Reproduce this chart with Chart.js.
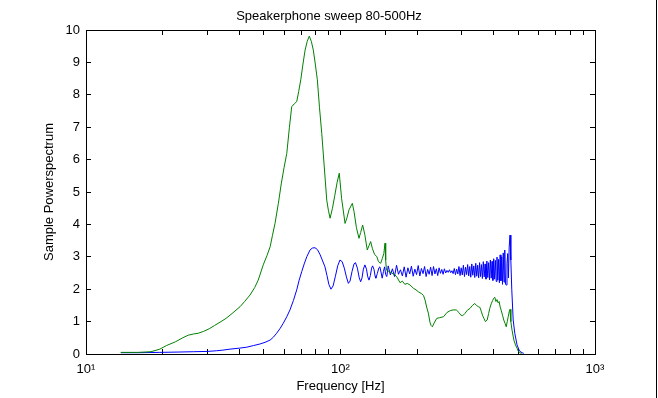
<!DOCTYPE html>
<html>
<head>
<meta charset="utf-8">
<title>Speakerphone sweep 80-500Hz</title>
<script src="https://cdn.jsdelivr.net/npm/chart.js"></script>
<style>
  body { margin: 0; background: #fff; }
  .wrap { position: relative; width: 658px; height: 398px; }
  .edge { position: absolute; left: 656px; top: 0; width: 1px; height: 398px; background: #000; }
</style>
</head>
<body>
<div class="wrap">
  <canvas id="myChart" width="658" height="398"></canvas>
  <div class="edge"></div>
</div>
<script>
// values
const greenFreq = [13.7, 16, 18, 19.5, 20.7, 22.5, 24, 25.2, 26.5, 27.6, 29, 30.5, 32, 33.6, 35.5, 37.5, 40.3, 42, 44.1, 46,
  47.5, 49.7, 51.5, 52.9, 54, 55.3, 57, 58.5, 60, 61.5, 63, 64.3, 65.8, 67.3, 68.5, 69.8, 71.2, 72.6, 74, 75.4,
  76.8, 78.2, 79.6, 81.1, 82.7, 84.4, 86.3, 88.3, 89.6, 91, 93, 95, 97, 98.9, 101, 104.2, 106, 108, 111.3, 113,
  115.5, 118.2, 120, 122.2, 124.5, 127.4, 129.5, 131.4, 133.5, 136, 139, 141, 143.9, 146, 148, 149.6, 150.5, 151.5, 155, 159,
  163.7, 167, 171.4, 175, 179, 183, 187.6, 193.3, 198, 202.3, 208.5, 212, 214.8, 218, 221.4, 224.8, 227, 229.6, 233, 238.9,
  245, 254, 262, 270, 277, 285, 292, 297, 302, 308, 315, 323, 330, 337, 342, 348, 353, 358, 362, 366,
  371, 377, 382, 386, 391, 396, 400, 404, 408, 412, 416, 420, 424, 428, 433, 438, 443, 448, 452, 456,
  460, 463.5, 467, 472, 480, 487, 494, 500, 505, 515];
const greenPower = [0.05, 0.05, 0.07, 0.15, 0.26, 0.38, 0.50, 0.58, 0.62, 0.64, 0.70, 0.78, 0.88, 0.98, 1.10, 1.25, 1.46, 1.62, 1.82, 2.05,
  2.28, 2.75, 3.05, 3.31, 3.65, 4.03, 4.65, 5.25, 5.75, 6.19, 7.0, 7.63, 7.72, 7.79, 8.1, 8.46, 8.95, 9.38, 9.65, 9.81,
  9.65, 9.38, 8.95, 8.46, 7.6, 6.81, 5.8, 4.75, 4.44, 4.19, 4.5, 4.9, 5.3, 5.58, 4.8, 4.03, 4.2, 4.45, 4.65, 4.4,
  3.9, 3.57, 3.75, 3.98, 3.7, 3.21, 3.35, 3.47, 3.25, 3.08, 3.0, 2.85, 2.80, 2.95, 3.1, 3.42, 2.9, 2.59, 2.55, 2.5,
  2.44, 2.36, 2.2, 2.25, 2.15, 2.18, 2.13, 2.03, 1.98, 1.92, 1.86, 1.8, 1.67, 1.45, 1.26, 0.97, 0.88, 0.84, 0.95, 1.10,
  1.12, 1.15, 1.28, 1.34, 1.36, 1.36, 1.28, 1.20, 1.18, 1.25, 1.35, 1.41, 1.50, 1.56, 1.50, 1.46, 1.44, 1.30, 1.18, 1.10,
  1.00, 1.05, 1.25, 1.41, 1.55, 1.65, 1.72, 1.75, 1.62, 1.68, 1.58, 1.62, 1.45, 1.35, 1.20, 1.05, 0.95, 0.84, 1.0, 1.15,
  1.3, 1.38, 1.0, 0.74, 0.43, 0.28, 0.18, 0.08, 0.04, 0.02];

const blueFreq = [13.7, 16, 19.5, 23, 26.4, 30, 32.6, 34.5, 36.8, 40, 42.8, 45.5, 48.3, 50.5, 52.9, 54.5, 56.1, 57.8, 59.6, 61.5,
  63.3, 65.3, 67.3, 68.8, 70.4, 72, 73.7, 75.9, 77.5, 79.4, 81.2, 83, 84.8, 86.9, 88.5, 90, 91.7, 93.5, 95.5, 97.5,
  99.5, 101.5, 103.5, 105.5, 107.4, 109, 111, 113, 114.5, 116.5, 118.5, 120, 121.5, 123, 124.7, 126.5, 128, 129.4, 131, 132.5,
  133.7, 135.5, 136.8, 137.7, 139.5, 141.5, 142.8, 144.5, 145.8, 147.5, 149, 150.5, 152, 154, 157, 160, 163, 166, 169, 172,
  175, 178, 181, 184, 187, 190, 193, 196, 199, 202, 205, 208, 211, 214, 217, 220, 223, 226, 229, 232,
  235, 238, 241, 244, 247, 250, 253, 256, 259, 262, 265, 268, 271, 274, 277, 280, 283, 286, 289, 292,
  295, 298, 301, 304, 307, 310, 313, 316, 319, 322, 325, 328, 331, 334, 337, 340, 343, 346, 349, 352,
  355, 358, 361, 364, 367, 370, 373, 376, 379, 382, 385, 388, 391, 394, 397, 400, 403, 406, 409, 412,
  415, 418, 421, 424, 427, 430, 433, 436, 439, 442, 445, 448, 451, 454, 457, 460, 463.5, 467, 471, 477,
  484, 494, 505, 517, 525];
const bluePower = [0.04, 0.04, 0.05, 0.06, 0.07, 0.08, 0.10, 0.12, 0.15, 0.18, 0.21, 0.26, 0.31, 0.36, 0.43, 0.52, 0.64, 0.78, 0.95, 1.15,
  1.36, 1.65, 1.98, 2.28, 2.54, 2.78, 3.00, 3.21, 3.27, 3.28, 3.22, 3.08, 2.90, 2.69, 2.42, 2.15, 2.00, 2.10, 2.40, 2.72,
  2.90, 2.85, 2.65, 2.38, 2.18, 2.25, 2.55, 2.78, 2.82, 2.65, 2.35, 2.23, 2.35, 2.62, 2.75, 2.62, 2.38, 2.28, 2.42, 2.65,
  2.72, 2.60, 2.40, 2.34, 2.48, 2.66, 2.69, 2.50, 2.34, 2.55, 2.69, 2.45, 2.39, 2.72, 2.44, 2.63, 2.39, 2.74, 2.46, 2.60,
  2.41, 2.69, 2.37, 2.66, 2.47, 2.71, 2.40, 2.62, 2.45, 2.73, 2.41, 2.64, 2.48, 2.70, 2.39, 2.61, 2.46, 2.68, 2.42, 2.70,
  2.47, 2.63, 2.42, 2.66, 2.49, 2.61, 2.46, 2.63, 2.50, 2.58, 2.52, 2.60, 2.51, 2.57, 2.48, 2.64, 2.45, 2.62, 2.47, 2.70,
  2.42, 2.66, 2.44, 2.74, 2.39, 2.68, 2.45, 2.76, 2.41, 2.70, 2.37, 2.78, 2.43, 2.72, 2.36, 2.80, 2.40, 2.74, 2.35, 2.82,
  2.39, 2.76, 2.33, 2.85, 2.38, 2.78, 2.31, 2.87, 2.36, 2.82, 2.29, 2.90, 2.34, 2.86, 2.27, 2.94, 2.31, 2.89, 2.24, 2.99,
  2.28, 2.92, 2.20, 3.06, 2.26, 3.00, 2.15, 3.12, 2.22, 3.21, 2.15, 2.13, 2.80, 3.10, 2.35, 3.30, 3.67, 2.90, 1.98, 1.05,
  0.64, 0.28, 0.09, 0.04, 0.02];

const decadeTicks = [10, 100, 1000];
const decadeLabels = ['10\u00B9', '10\u00B2', '10\u00B3'];

const toPoints = (xs, ys) => xs.map((x, i) => ({ x: x, y: ys[i] }));

const FONT = 'Liberation Sans, Arial, Helvetica, sans-serif';
const tickGrid = { drawOnChartArea: false, color: '#000', tickLength: -5 };

const ctx = document.getElementById('myChart').getContext('2d');
new Chart(ctx, {
  type: 'line',
  data: {
    datasets: [
      {
        label: 'Microphone',
        data: toPoints(greenFreq, greenPower),
        borderColor: '#008000',
        borderWidth: 1,
        pointRadius: 0,
        tension: 0,
        xAxisID: 'x',
        yAxisID: 'y',
      },
      {
        label: 'Sweep',
        data: toPoints(blueFreq, bluePower),
        borderColor: '#0000ff',
        borderWidth: 1,
        pointRadius: 0,
        tension: 0,
        xAxisID: 'x',
        yAxisID: 'y',
      },
    ],
  },
  options: {
    responsive: false,
    animation: false,
    layout: { padding: 0 },
    plugins: {
      legend: { display: false },
      tooltip: { enabled: false },
      title: {
        display: true,
        text: 'Speakerphone sweep 80-500Hz',
        color: '#000',
        font: { family: FONT, size: 13, weight: 'normal' },
        padding: { top: 8.5, bottom: 5.9 },
      },
    },
    scales: {
      x: {
        type: 'logarithmic',
        position: 'bottom',
        min: 10,
        max: 1000,
        grid: tickGrid,
        border: { color: '#000', width: 1 },
        ticks: {
          autoSkip: false,
          maxRotation: 0,
          color: '#000',
          padding: 13,
          font: { family: FONT, size: 13 },
          callback: (value) => {
            const i = decadeTicks.indexOf(Number(value));
            return i >= 0 ? decadeLabels[i] : '';
          },
        },
        title: {
          display: true,
          text: 'Frequency [Hz]',
          color: '#000',
          font: { family: FONT, size: 13 },
          padding: { top: 0, bottom: 4 },
        },
        afterFit: (scale) => { scale.height = 44; },
      },
      x2: {
        type: 'logarithmic',
        position: 'top',
        min: 10,
        max: 1000,
        grid: tickGrid,
        border: { color: '#000', width: 1 },
        ticks: { display: false, autoSkip: false },
        afterFit: (scale) => { scale.height = 0; },
      },
      y: {
        type: 'linear',
        position: 'left',
        min: 0,
        max: 10,
        grid: tickGrid,
        border: { color: '#000', width: 1 },
        ticks: {
          stepSize: 1,
          color: '#000',
          padding: 11,
          font: { family: FONT, size: 13 },
        },
        title: {
          display: true,
          text: 'Sample Powerspectrum',
          color: '#000',
          font: { family: FONT, size: 13 },
          padding: { top: 42, bottom: 0 },
        },
        afterFit: (scale) => { scale.width = 86; },
      },
      y2: {
        type: 'linear',
        position: 'right',
        min: 0,
        max: 10,
        grid: tickGrid,
        border: { color: '#000', width: 1 },
        ticks: { display: false, stepSize: 1 },
        afterFit: (scale) => { scale.width = 63; },
      },
    },
  },
});
</script>
</body>
</html>
